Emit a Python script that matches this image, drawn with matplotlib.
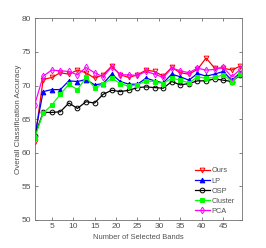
import matplotlib
matplotlib.use("Agg")
import matplotlib.pyplot as plt
from matplotlib import font_manager

bands = list(range(1, 50, 2))
ours = [61.6, 70.9, 71.2, 71.9, 71.7, 72.3, 71.9, 71.1, 71.6, 72.9, 71.6, 71.2, 71.6, 72.3, 72.1, 71.4, 72.7, 71.9, 71.7, 72.4, 74.1, 72.6, 72.6, 72.3, 72.9]
lp = [62.4, 69.1, 69.4, 69.4, 70.7, 70.6, 70.9, 70.1, 70.3, 71.7, 70.6, 70.2, 70.2, 71.1, 70.7, 70.4, 71.7, 71.3, 70.8, 71.8, 71.4, 71.7, 72.1, 70.8, 71.9]
osp = [62.5, 66.0, 66.0, 66.1, 67.4, 66.6, 67.6, 67.4, 68.7, 69.3, 69.1, 69.3, 69.7, 69.8, 69.7, 69.6, 70.6, 70.1, 70.3, 70.7, 70.7, 71.0, 70.8, 70.6, 71.6]
cluster = [62.2, 65.9, 67.1, 68.7, 70.2, 69.4, 71.2, 69.7, 70.2, 71.1, 70.3, 69.9, 70.1, 70.7, 70.6, 70.3, 71.1, 70.8, 70.4, 71.3, 71.1, 71.2, 71.6, 70.6, 71.7]
pca = [67.1, 71.4, 72.3, 72.2, 72.1, 71.6, 72.7, 71.9, 71.3, 72.8, 71.6, 71.6, 71.5, 72.1, 71.7, 71.2, 72.6, 72.2, 71.9, 72.6, 72.3, 72.4, 72.7, 71.3, 72.4]
labels = ["Ours", "LP", "OSP", "Cluster", "PCA"]

names = {f.name for f in font_manager.fontManager.ttflist}
narrow = 'Liberation Sans Narrow' if 'Liberation Sans Narrow' in names else 'Liberation Sans'
plt.rcParams['font.family'] = [narrow, 'DejaVu Sans']

tc = "#505050"
fig = plt.figure(figsize=(2.66, 2.48), dpi=100)
ax = fig.add_axes([0.130, 0.113, 0.780, 0.813])

styles = [
    (ours, "#ff0000", "v", "none"),
    (lp, "#0000ff", "^", "#0000ff"),
    (osp, "#000000", "o", "none"),
    (cluster, "#00ff00", "s", "#00ff00"),
    (pca, "#ff00ff", "d", "none"),
]
for (vals, c, m, fc), lab in zip(styles, labels):
    ax.plot(bands, vals, color=c, marker=m, markersize=3.4, markerfacecolor=fc,
            markeredgecolor=c, linewidth=0.9, markeredgewidth=0.7, label=lab)

ax.set_xlim(1, 49.4)
ax.set_ylim(50, 80)
ax.set_xticks(range(5, 50, 5))
ax.set_yticks(range(50, 81, 5))
ax.tick_params(direction="in", length=2, width=0.5, labelsize=6, colors=tc, pad=2.5,
               top=True, right=True, labeltop=False, labelright=False)
for s in ax.spines.values():
    s.set_linewidth(0.6)
    s.set_color("#707070")
ax.set_xlabel("Number of Selected Bands", fontsize=5.4, labelpad=2.5, color=tc)
ax.set_ylabel("Overall Classification Accuracy", fontsize=5.8, color=tc, family='Liberation Sans')
ax.yaxis.set_label_coords(-0.062, 0.5)
leg = ax.legend(loc="lower right", fontsize=5.3, frameon=False, handlelength=2.0, labelspacing=0.4,
                borderaxespad=0.3, handletextpad=0.25, bbox_to_anchor=(0.99, 0.0))
for t in leg.get_texts():
    t.set_color(tc)
fig.savefig("out.png", dpi=100)
